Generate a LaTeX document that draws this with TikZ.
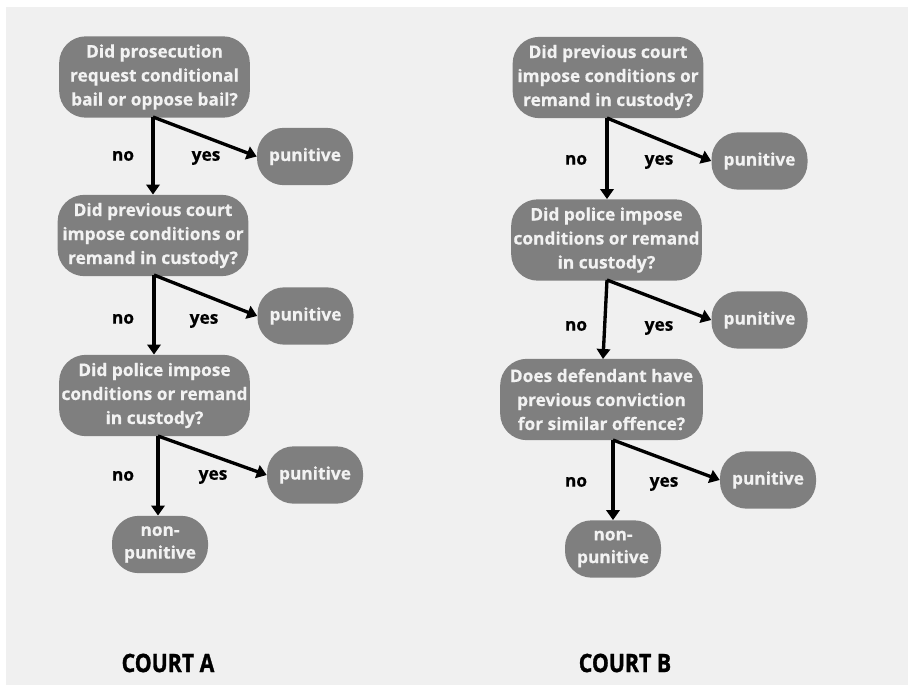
\documentclass[tikz,border=0pt]{standalone}
\usepackage{fontspec}
\setmainfont{Open Sans}[BoldFeatures={FakeBold=0.5}]
\newfontfamily\condfont[FakeStretch=0.84,FakeBold=1.2]{Open Sans}
\usetikzlibrary{arrows.meta}
\definecolor{bgc}{HTML}{F0F0F0}
\definecolor{boxc}{HTML}{7F7F7F}
\definecolor{boxtxt}{HTML}{F2F2F2}
\tikzset{
  qbox/.style={fill=boxc, text=boxtxt, rounded corners=20pt, align=center,
    font=\bfseries\fontsize{13}{18}\selectfont, minimum width=143pt, minimum height=61pt, inner sep=0pt},
  rbox/.style={fill=boxc, text=boxtxt, rounded corners=20pt, align=center,
    font=\bfseries\fontsize{13}{17}\selectfont, minimum width=72pt, minimum height=43pt, inner sep=0pt},
  arr/.style={draw=black, line width=2.5pt, -{Triangle[length=7.5pt,width=10pt]}},
  lbl/.style={font=\bfseries\fontsize{13}{15}\selectfont, text=black, inner sep=0pt, text height=7pt, text depth=0pt},
  court/.style={font=\condfont\bfseries\fontsize{19}{20}\selectfont, text=black, inner sep=0pt}
}
\begin{document}
\begin{tikzpicture}[x=0.75pt, y=-0.75pt]
\useasboundingbox (0,0) rectangle (908,685);
\fill[white] (0,0) rectangle (908,685);
\fill[bgc] (6,7) rectangle (908,685);

% Court A
\node[qbox] (a1) at (154.5,77) {Did prosecution\\request conditional\\bail or oppose bail?};
\node[rbox] (ap1) at (305,156.5) {punitive};
\node[qbox] (a2) at (153,235.5) {Did previous court\\impose conditions or\\remand in custody?};
\node[rbox] (ap2) at (305.5,316) {punitive};
\node[qbox] (a3) at (154.5,395.5) {Did police impose\\conditions or remand\\in custody?};
\node[rbox] (ap3) at (315,475) {punitive};
\node[rbox] (anp) at (160,544.5) {non-\\punitive};
\coordinate (aj1) at (153,117);
\coordinate (aj2) at (154,275);
\coordinate (aj3) at (158,436);
\draw[arr] (aj1) -- (a2.north -| aj1);
\draw[arr] (aj1) -- (ap1.west);
\draw[arr] (aj2) -- (a3.north -| aj2);
\draw[arr] (aj2) -- (ap2.west);
\draw[arr] (aj3) -- (anp.north -| aj3);
\draw[arr] (aj3) -- (ap3.west);
\node[lbl] (an1) at (123,156) {no};
\node[lbl] (ay1) at (206,156) {yes};
\node[lbl] (an2) at (123,319) {no};
\node[lbl] (ay2) at (204,319) {yes};
\node[lbl] (an3) at (123,476) {no};
\node[lbl] (ay3) at (213,475) {yes};
\node[court] (ca) at (168,663) {COURT A};

% Court B
\node[qbox] (b1) at (608,77.5) {Did previous court\\impose conditions or\\remand in custody?};
\node[rbox] (bp1) at (759.5,161) {punitive};
\node[qbox] (b2) at (606.5,240) {Did police impose\\conditions or remand\\in custody?};
\node[rbox] (bp2) at (759.5,320) {punitive};
\node[qbox, minimum width=152pt] (b3) at (601.5,399.5) {Does defendant have\\previous conviction\\for similar offence?};
\node[rbox] (bp3) at (768,480) {punitive};
\node[rbox] (bnp) at (613,549) {non-\\punitive};
\coordinate (bj1) at (607,118);
\coordinate (bj2) at (607,280);
\coordinate (bj3) at (613,440);
\coordinate (bt2) at (603,359);
\draw[arr] (bj1) -- (b2.north -| bj1);
\draw[arr] (bj1) -- (bp1.west);
\draw[arr] (bj2) -- (bt2);
\draw[arr] (bj2) -- (bp2.west);
\draw[arr] (bj3) -- (bnp.north -| bj3);
\draw[arr] (bj3) -- (bp3.west);
\node[lbl] (bn1) at (576,160) {no};
\node[lbl] (by1) at (659,160) {yes};
\node[lbl] (bn2) at (576,326) {no};
\node[lbl] (by2) at (659,326) {yes};
\node[lbl] (bn3) at (576,482) {no};
\node[lbl] (by3) at (664,482) {yes};
\node[court] (cb) at (625,663) {COURT B};
\end{tikzpicture}
\end{document}
